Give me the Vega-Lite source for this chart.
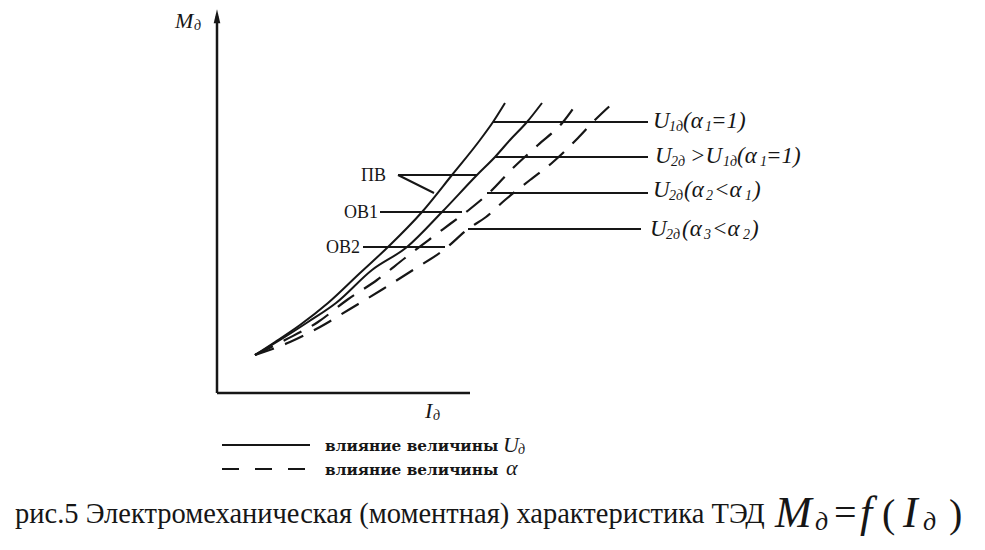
{
  "$schema": "https://vega.github.io/schema/vega-lite/v6.json",
  "width": 985,
  "height": 550,
  "autosize": {"type": "fit", "contains": "padding"},
  "padding": 0,
  "background": "#ffffff",
  "config": {"view": {"stroke": null}},
  "datasets": {
    "curves": [
      {"series": "U1", "kind": "solid", "I": 3.8, "M": 3.8},
      {"series": "U1", "kind": "solid", "I": 5.8, "M": 5.1},
      {"series": "U1", "kind": "solid", "I": 8.3, "M": 6.8},
      {"series": "U1", "kind": "solid", "I": 11.1, "M": 9.0},
      {"series": "U1", "kind": "solid", "I": 14.3, "M": 12.0},
      {"series": "U1", "kind": "solid", "I": 17.1, "M": 14.6},
      {"series": "U1", "kind": "solid", "I": 20.5, "M": 18.1},
      {"series": "U1", "kind": "solid", "I": 23.5, "M": 21.8},
      {"series": "U1", "kind": "solid", "I": 26.3, "M": 25.3},
      {"series": "U1", "kind": "solid", "I": 27.6, "M": 27.1},
      {"series": "U1", "kind": "solid", "I": 28.8, "M": 29.0},
      {"series": "U2", "kind": "solid", "I": 3.8, "M": 3.8},
      {"series": "U2", "kind": "solid", "I": 6.3, "M": 5.3},
      {"series": "U2", "kind": "solid", "I": 9.1, "M": 7.1},
      {"series": "U2", "kind": "solid", "I": 11.9, "M": 9.0},
      {"series": "U2", "kind": "solid", "I": 15.5, "M": 12.3},
      {"series": "U2", "kind": "solid", "I": 19.0, "M": 14.6},
      {"series": "U2", "kind": "solid", "I": 22.5, "M": 18.1},
      {"series": "U2", "kind": "solid", "I": 26.0, "M": 21.8},
      {"series": "U2", "kind": "solid", "I": 27.8, "M": 23.6},
      {"series": "U2", "kind": "solid", "I": 29.3, "M": 25.3},
      {"series": "U2", "kind": "solid", "I": 31.0, "M": 27.1},
      {"series": "U2", "kind": "solid", "I": 32.5, "M": 29.0},
      {"series": "a2", "kind": "dashed", "I": 3.8, "M": 3.8},
      {"series": "a2", "kind": "dashed", "I": 6.8, "M": 5.3},
      {"series": "a2", "kind": "dashed", "I": 10.1, "M": 7.1},
      {"series": "a2", "kind": "dashed", "I": 13.0, "M": 9.3},
      {"series": "a2", "kind": "dashed", "I": 16.0, "M": 11.3},
      {"series": "a2", "kind": "dashed", "I": 18.8, "M": 13.5},
      {"series": "a2", "kind": "dashed", "I": 21.3, "M": 15.4},
      {"series": "a2", "kind": "dashed", "I": 23.3, "M": 16.9},
      {"series": "a2", "kind": "dashed", "I": 25.3, "M": 18.4},
      {"series": "a2", "kind": "dashed", "I": 27.3, "M": 20.1},
      {"series": "a2", "kind": "dashed", "I": 29.6, "M": 22.5},
      {"series": "a2", "kind": "dashed", "I": 32.1, "M": 24.8},
      {"series": "a2", "kind": "dashed", "I": 34.6, "M": 27.1},
      {"series": "a2", "kind": "dashed", "I": 36.0, "M": 29.0},
      {"series": "a3", "kind": "dashed", "I": 3.8, "M": 3.8},
      {"series": "a3", "kind": "dashed", "I": 7.3, "M": 5.1},
      {"series": "a3", "kind": "dashed", "I": 10.3, "M": 6.6},
      {"series": "a3", "kind": "dashed", "I": 13.3, "M": 8.4},
      {"series": "a3", "kind": "dashed", "I": 16.6, "M": 10.4},
      {"series": "a3", "kind": "dashed", "I": 19.6, "M": 12.3},
      {"series": "a3", "kind": "dashed", "I": 22.8, "M": 14.4},
      {"series": "a3", "kind": "dashed", "I": 25.1, "M": 16.4},
      {"series": "a3", "kind": "dashed", "I": 26.9, "M": 17.6},
      {"series": "a3", "kind": "dashed", "I": 28.8, "M": 19.3},
      {"series": "a3", "kind": "dashed", "I": 31.3, "M": 21.3},
      {"series": "a3", "kind": "dashed", "I": 33.6, "M": 23.1},
      {"series": "a3", "kind": "dashed", "I": 36.1, "M": 25.5},
      {"series": "a3", "kind": "dashed", "I": 37.6, "M": 27.1},
      {"series": "a3", "kind": "dashed", "I": 39.6, "M": 29.0}
    ],
    "segs": [
      {"name": "axisM", "kind": "axis", "x": 0, "y": 0, "x2": 0, "y2": 37.7},
      {"name": "axisI", "kind": "axis", "x": 0, "y": 0, "x2": 25.3, "y2": 0},
      {"name": "U1", "kind": "leader", "x": 27.6, "y": 27.1, "x2": 43.1, "y2": 27.1},
      {"name": "U2", "kind": "leader", "x": 27.8, "y": 23.6, "x2": 43.1, "y2": 23.6},
      {"name": "a2", "kind": "leader", "x": 27.0, "y": 20.0, "x2": 43.1, "y2": 20.0},
      {"name": "a3", "kind": "leader", "x": 25.1, "y": 16.4, "x2": 42.4, "y2": 16.4},
      {"name": "PV1", "kind": "leader", "x": 18.1, "y": 21.8, "x2": 26.0, "y2": 21.8},
      {"name": "PV2", "kind": "leader", "x": 18.1, "y": 21.8, "x2": 21.7, "y2": 20.0},
      {"name": "OV1", "kind": "leader", "x": 16.3, "y": 18.1, "x2": 24.5, "y2": 18.1},
      {"name": "OV2", "kind": "leader", "x": 14.6, "y": 14.6, "x2": 22.8, "y2": 14.6},
      {"name": "legSolid", "kind": "leader", "x": 0.5, "y": -5.2, "x2": 9.3, "y2": -5.2},
      {"name": "legDash", "kind": "legdash", "x": 0.5, "y": -7.6, "x2": 9.3, "y2": -7.6}
    ],
    "arrow": [{"x": 0, "y": 37.5}],
    "labels": [
      {"role": "axislabel", "text": "M", "x": -4.2, "y": 36.5},
      {"role": "axissub", "text": "д", "x": -2.3, "y": 36.3},
      {"role": "axislabel", "text": "I", "x": 20.8, "y": -2.5},
      {"role": "axissub", "text": "д", "x": 21.6, "y": -2.7},

      {"role": "curvelabel", "text": "U", "x": 43.6, "y": 26.5},
      {"role": "curvesub", "text": "1д", "x": 45.2, "y": 26.2},
      {"role": "curvelabel", "text": "(α", "x": 46.6, "y": 26.5},
      {"role": "curvesub", "text": "1", "x": 48.8, "y": 26.2},
      {"role": "curvelabel", "text": "=1)", "x": 49.4, "y": 26.5},

      {"role": "curvelabel", "text": "U", "x": 43.8, "y": 23.0},
      {"role": "curvesub", "text": "2д", "x": 45.4, "y": 22.7},
      {"role": "curvelabel", "text": ">U", "x": 47.3, "y": 23.0},
      {"role": "curvesub", "text": "1д", "x": 50.6, "y": 22.7},
      {"role": "curvelabel", "text": "(α", "x": 52.0, "y": 23.0},
      {"role": "curvesub", "text": "1", "x": 54.3, "y": 22.7},
      {"role": "curvelabel", "text": "=1)", "x": 54.9, "y": 23.0},

      {"role": "curvelabel", "text": "U", "x": 43.6, "y": 19.6},
      {"role": "curvesub", "text": "2д", "x": 45.2, "y": 19.3},
      {"role": "curvelabel", "text": "(α", "x": 46.7, "y": 19.6},
      {"role": "curvesub", "text": "2", "x": 48.9, "y": 19.3},
      {"role": "curvelabel", "text": "<α", "x": 49.7, "y": 19.6},
      {"role": "curvesub", "text": "1", "x": 52.8, "y": 19.3},
      {"role": "curvelabel", "text": ")", "x": 53.6, "y": 19.6},

      {"role": "curvelabel", "text": "U", "x": 43.3, "y": 15.7},
      {"role": "curvesub", "text": "2д", "x": 44.9, "y": 15.4},
      {"role": "curvelabel", "text": "(α", "x": 46.5, "y": 15.7},
      {"role": "curvesub", "text": "3", "x": 48.7, "y": 15.4},
      {"role": "curvelabel", "text": "<α", "x": 49.5, "y": 15.7},
      {"role": "curvesub", "text": "2", "x": 52.6, "y": 15.4},
      {"role": "curvelabel", "text": ")", "x": 53.4, "y": 15.7},

      {"role": "marker", "text": "ПВ", "x": 16.9, "y": 21.2},
      {"role": "marker", "text": "ОВ1", "x": 16.1, "y": 17.5},
      {"role": "marker", "text": "ОВ2", "x": 14.3, "y": 14.0},

      {"role": "legend", "text": "влияние величины", "x": 10.8, "y": -5.8},
      {"role": "legendsym", "text": "U", "x": 28.6, "y": -5.9},
      {"role": "legendsub", "text": "д", "x": 30.1, "y": -6.1},
      {"role": "legend", "text": "влияние величины", "x": 10.8, "y": -8.2},
      {"role": "legendsym", "text": "α", "x": 28.9, "y": -8.2},

      {"role": "caption", "text": "рис.5 Электромеханическая (моментная) характеристика ТЭД", "x": -20.2, "y": -13.0},
      {"role": "formula", "text": "M", "x": 55.8, "y": -13.4},
      {"role": "formulasub", "text": "д", "x": 59.8, "y": -13.7},
      {"role": "formulaop", "text": "=", "x": 61.7, "y": -13.3},
      {"role": "formula", "text": "f", "x": 64.3, "y": -13.4},
      {"role": "formulaop", "text": "(", "x": 66.5, "y": -13.4},
      {"role": "formula", "text": "I", "x": 68.6, "y": -13.4},
      {"role": "formulasub", "text": "д", "x": 70.6, "y": -13.7},
      {"role": "formulaop", "text": ")", "x": 73.2, "y": -13.4}
    ]
  },
  "encoding": {
    "x": {"type": "quantitative", "scale": {"domain": [-21.7, 76.8], "nice": false, "zero": false}, "axis": null},
    "y": {"type": "quantitative", "scale": {"domain": [-15.7, 39.3], "nice": false, "zero": false}, "axis": null}
  },
  "layer": [
    {
      "data": {"name": "segs"},
      "transform": [{"filter": "datum.kind === 'axis'"}],
      "mark": {"type": "rule", "color": "#161616", "strokeWidth": 2.5},
      "encoding": {"x": {"field": "x", "type": "quantitative"}, "y": {"field": "y", "type": "quantitative"}, "x2": {"field": "x2"}, "y2": {"field": "y2"}}
    },
    {
      "data": {"name": "segs"},
      "transform": [{"filter": "datum.kind === 'leader'"}],
      "mark": {"type": "rule", "color": "#161616", "strokeWidth": 2},
      "encoding": {"x": {"field": "x", "type": "quantitative"}, "y": {"field": "y", "type": "quantitative"}, "x2": {"field": "x2"}, "y2": {"field": "y2"}}
    },
    {
      "data": {"name": "segs"},
      "transform": [{"filter": "datum.kind === 'legdash'"}],
      "mark": {"type": "rule", "color": "#161616", "strokeWidth": 2.2, "strokeDash": [17, 16]},
      "encoding": {"x": {"field": "x", "type": "quantitative"}, "y": {"field": "y", "type": "quantitative"}, "x2": {"field": "x2"}, "y2": {"field": "y2"}}
    },
    {
      "data": {"name": "arrow"},
      "mark": {"type": "point", "shape": "M0,-1L0.38,0.6L-0.38,0.6Z", "filled": true, "color": "#161616", "size": 300, "opacity": 1},
      "encoding": {"x": {"field": "x", "type": "quantitative"}, "y": {"field": "y", "type": "quantitative"}}
    },
    {
      "data": {"name": "curves"},
      "transform": [{"filter": "datum.kind === 'solid'"}],
      "mark": {"type": "line", "color": "#161616", "strokeWidth": 2, "interpolate": "monotone"},
      "encoding": {"x": {"field": "I", "type": "quantitative"}, "y": {"field": "M", "type": "quantitative"}, "detail": {"field": "series"}}
    },
    {
      "data": {"name": "curves"},
      "transform": [{"filter": "datum.kind === 'dashed'"}],
      "mark": {"type": "line", "color": "#161616", "strokeWidth": 2.2, "strokeDash": [20, 12], "interpolate": "monotone"},
      "encoding": {"x": {"field": "I", "type": "quantitative"}, "y": {"field": "M", "type": "quantitative"}, "detail": {"field": "series"}}
    },
    {
      "data": {"name": "labels"},
      "transform": [{"filter": "datum.role === 'axislabel'"}],
      "mark": {"type": "text", "font": "Liberation Serif, Times New Roman, serif", "fontStyle": "italic", "fontSize": 22, "align": "left", "baseline": "alphabetic", "color": "#161616"},
      "encoding": {"x": {"field": "x", "type": "quantitative"}, "y": {"field": "y", "type": "quantitative"}, "text": {"field": "text"}}
    },
    {
      "data": {"name": "labels"},
      "transform": [{"filter": "datum.role === 'axissub'"}],
      "mark": {"type": "text", "font": "Liberation Serif, Times New Roman, serif", "fontStyle": "italic", "fontSize": 14, "align": "left", "baseline": "alphabetic", "color": "#161616"},
      "encoding": {"x": {"field": "x", "type": "quantitative"}, "y": {"field": "y", "type": "quantitative"}, "text": {"field": "text"}}
    },
    {
      "data": {"name": "labels"},
      "transform": [{"filter": "datum.role === 'curvelabel'"}],
      "mark": {"type": "text", "font": "Liberation Serif, Times New Roman, serif", "fontStyle": "italic", "fontSize": 23, "align": "left", "baseline": "alphabetic", "color": "#161616"},
      "encoding": {"x": {"field": "x", "type": "quantitative"}, "y": {"field": "y", "type": "quantitative"}, "text": {"field": "text"}}
    },
    {
      "data": {"name": "labels"},
      "transform": [{"filter": "datum.role === 'curvesub'"}],
      "mark": {"type": "text", "font": "Liberation Serif, Times New Roman, serif", "fontStyle": "italic", "fontSize": 14, "align": "left", "baseline": "alphabetic", "color": "#161616"},
      "encoding": {"x": {"field": "x", "type": "quantitative"}, "y": {"field": "y", "type": "quantitative"}, "text": {"field": "text"}}
    },
    {
      "data": {"name": "labels"},
      "transform": [{"filter": "datum.role === 'marker'"}],
      "mark": {"type": "text", "font": "Liberation Serif, Times New Roman, serif", "fontSize": 18, "align": "right", "baseline": "alphabetic", "color": "#161616"},
      "encoding": {"x": {"field": "x", "type": "quantitative"}, "y": {"field": "y", "type": "quantitative"}, "text": {"field": "text"}}
    },
    {
      "data": {"name": "labels"},
      "transform": [{"filter": "datum.role === 'legend'"}],
      "mark": {"type": "text", "font": "DejaVu Serif, serif", "fontWeight": "bold", "fontSize": 15.3, "align": "left", "baseline": "alphabetic", "color": "#161616"},
      "encoding": {"x": {"field": "x", "type": "quantitative"}, "y": {"field": "y", "type": "quantitative"}, "text": {"field": "text"}}
    },
    {
      "data": {"name": "labels"},
      "transform": [{"filter": "datum.role === 'legendsym'"}],
      "mark": {"type": "text", "font": "Liberation Serif, Times New Roman, serif", "fontStyle": "italic", "fontSize": 22, "align": "left", "baseline": "alphabetic", "color": "#161616"},
      "encoding": {"x": {"field": "x", "type": "quantitative"}, "y": {"field": "y", "type": "quantitative"}, "text": {"field": "text"}}
    },
    {
      "data": {"name": "labels"},
      "transform": [{"filter": "datum.role === 'legendsub'"}],
      "mark": {"type": "text", "font": "Liberation Serif, Times New Roman, serif", "fontStyle": "italic", "fontSize": 14, "align": "left", "baseline": "alphabetic", "color": "#161616"},
      "encoding": {"x": {"field": "x", "type": "quantitative"}, "y": {"field": "y", "type": "quantitative"}, "text": {"field": "text"}}
    },
    {
      "data": {"name": "labels"},
      "transform": [{"filter": "datum.role === 'caption'"}],
      "mark": {"type": "text", "font": "Liberation Serif, Times New Roman, serif", "fontSize": 28.5, "align": "left", "baseline": "alphabetic", "color": "#161616"},
      "encoding": {"x": {"field": "x", "type": "quantitative"}, "y": {"field": "y", "type": "quantitative"}, "text": {"field": "text"}}
    },
    {
      "data": {"name": "labels"},
      "transform": [{"filter": "datum.role === 'formula'"}],
      "mark": {"type": "text", "font": "Liberation Serif, Times New Roman, serif", "fontStyle": "italic", "fontSize": 44, "align": "left", "baseline": "alphabetic", "color": "#161616"},
      "encoding": {"x": {"field": "x", "type": "quantitative"}, "y": {"field": "y", "type": "quantitative"}, "text": {"field": "text"}}
    },
    {
      "data": {"name": "labels"},
      "transform": [{"filter": "datum.role === 'formulasub'"}],
      "mark": {"type": "text", "font": "Liberation Serif, Times New Roman, serif", "fontStyle": "italic", "fontSize": 26, "align": "left", "baseline": "alphabetic", "color": "#161616"},
      "encoding": {"x": {"field": "x", "type": "quantitative"}, "y": {"field": "y", "type": "quantitative"}, "text": {"field": "text"}}
    },
    {
      "data": {"name": "labels"},
      "transform": [{"filter": "datum.role === 'formulaop'"}],
      "mark": {"type": "text", "font": "Liberation Serif, Times New Roman, serif", "fontSize": 40, "align": "left", "baseline": "alphabetic", "color": "#161616"},
      "encoding": {"x": {"field": "x", "type": "quantitative"}, "y": {"field": "y", "type": "quantitative"}, "text": {"field": "text"}}
    }
  ]
}
